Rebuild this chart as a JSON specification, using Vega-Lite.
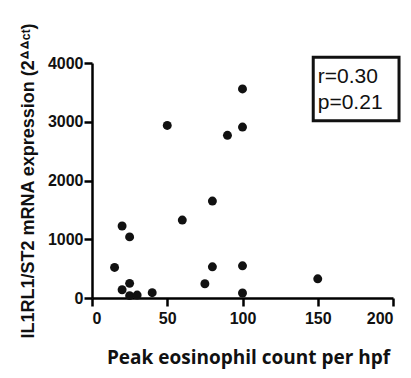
{
  "$schema": "https://vega.github.io/schema/vega-lite/v6.json",
  "autosize": {"type": "none"},
  "padding": {"left": 92, "top": 63, "right": 18, "bottom": 80},
  "width": 301,
  "height": 235,
  "background": "white",
  "config": {
    "view": {"stroke": null},
    "axis": {
      "grid": false,
      "domainColor": "black",
      "domainWidth": 2.5,
      "tickColor": "black",
      "tickWidth": 2.5,
      "tickSize": 8,
      "labelFont": "Liberation Sans",
      "labelFontWeight": "bold",
      "labelFontSize": 16,
      "labelColor": "#111",
      "titleColor": "#111",
      "format": "d"
    }
  },
  "datasets": {
    "points": [
      {"eos": 15, "expr": 520},
      {"eos": 20, "expr": 1225},
      {"eos": 25, "expr": 1040},
      {"eos": 25, "expr": 249},
      {"eos": 20, "expr": 141},
      {"eos": 25, "expr": 40},
      {"eos": 30, "expr": 50},
      {"eos": 40, "expr": 90},
      {"eos": 50, "expr": 2937},
      {"eos": 60, "expr": 1327},
      {"eos": 80, "expr": 1650},
      {"eos": 80, "expr": 531},
      {"eos": 75, "expr": 243},
      {"eos": 90, "expr": 2769},
      {"eos": 100, "expr": 3559},
      {"eos": 100, "expr": 2910},
      {"eos": 100, "expr": 548},
      {"eos": 100, "expr": 85},
      {"eos": 150, "expr": 327}
    ],
    "stats": [{"stat": "r", "label": "r=0.30"}, {"stat": "p", "label": "p=0.21"}]
  },
  "layer": [
    {
      "data": {"name": "points"},
      "mark": {"type": "point", "filled": true, "color": "#111", "size": 80, "opacity": 1},
      "encoding": {
        "x": {
          "field": "eos", "type": "quantitative",
          "scale": {"domain": [0, 200], "nice": false},
          "axis": {
            "values": [0, 50, 100, 150, 200],
            "title": "Peak eosinophil count per hpf",
            "titleFont": "Open Sans",
            "titleFontWeight": "bold",
            "titleFontSize": 19,
            "titlePadding": 22,
            "titleX": 156,
            "labelPadding": 4
          }
        },
        "y": {
          "field": "expr", "type": "quantitative",
          "scale": {"domain": [0, 4000], "nice": false},
          "axis": {
            "values": [0, 1000, 2000, 3000, 4000],
            "title": "IL1RL1/ST2 mRNA expression (2ᐞᐞᶜᵗ)",
            "titleFont": "Liberation Sans",
            "titleFontWeight": "bold",
            "titleFontSize": 18,
            "titlePadding": 10,
            "labelPadding": 1
          }
        }
      }
    },
    {
      "data": {"name": "stats"},
      "transform": [{"filter": "datum.stat === 'r'"}],
      "mark": {"type": "rect", "fill": "white", "fillOpacity": 0, "stroke": "#111", "strokeWidth": 3, "clip": false},
      "encoding": {
        "x": {"datum": 147, "type": "quantitative"},
        "x2": {"datum": 204},
        "y": {"datum": 4100, "type": "quantitative"},
        "y2": {"datum": 3017}
      }
    },
    {
      "data": {"name": "stats"},
      "transform": [{"filter": "datum.stat === 'r'"}],
      "mark": {"type": "text", "align": "left", "baseline": "middle", "font": "Liberation Sans", "fontSize": 21, "color": "#111"},
      "encoding": {
        "x": {"datum": 150, "type": "quantitative"},
        "y": {"datum": 3763, "type": "quantitative"},
        "text": {"field": "label"}
      }
    },
    {
      "data": {"name": "stats"},
      "transform": [{"filter": "datum.stat === 'p'"}],
      "mark": {"type": "text", "align": "left", "baseline": "middle", "font": "Liberation Sans", "fontSize": 21, "color": "#111"},
      "encoding": {
        "x": {"datum": 150, "type": "quantitative"},
        "y": {"datum": 3322, "type": "quantitative"},
        "text": {"field": "label"}
      }
    }
  ]
}
